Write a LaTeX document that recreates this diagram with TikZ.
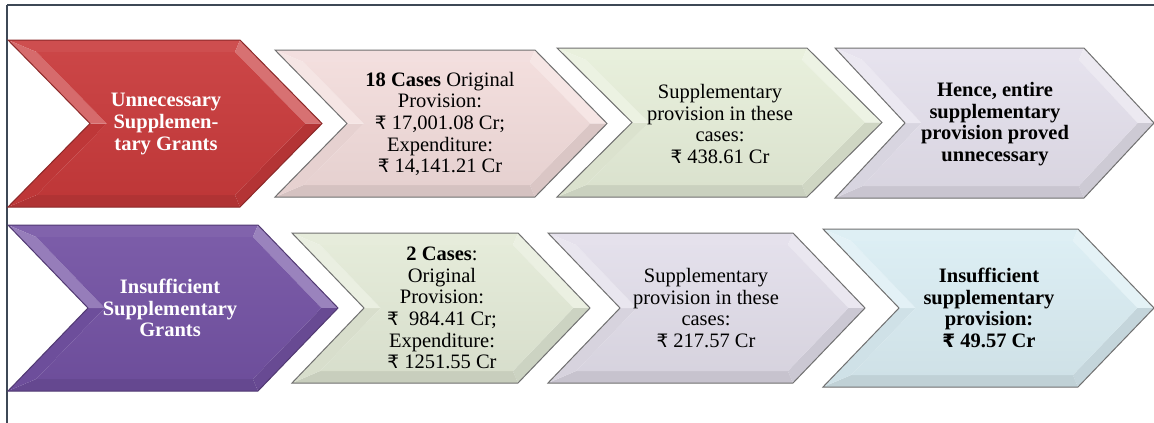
\documentclass[tikz,border=0pt]{standalone}
\usepackage{fontspec}
\setmainfont{Liberation Serif}
\newfontfamily\rupfont[Scale=0.9]{DejaVu Sans}
\newcommand\Rs{{\rupfont ₹}}
\definecolor{redc}{HTML}{C83A3B}
\definecolor{purc}{HTML}{7352A3}
\definecolor{pinkc}{HTML}{F2DCDB}
\definecolor{greenc}{HTML}{E6EED9}
\definecolor{greenb}{HTML}{E3EAD7}
\definecolor{lavc}{HTML}{E4E0EC}
\definecolor{lavb}{HTML}{E2DEEA}
\definecolor{bluec}{HTML}{DAEDF3}
\definecolor{framec}{HTML}{3E4856}
\definecolor{edgec}{HTML}{707070}
\newcommand\chev[7]{%
  \pgfmathsetmacro\chM{(#2+#3)/2}%
  \pgfmathsetmacro\chH{(#3-#2)/2}%
  \pgfmathsetmacro\chI{12}%
  \pgfmathsetmacro\chS{\chI*sqrt(#5*#5+\chH*\chH)/\chH}%
  \pgfmathsetmacro\chX{#5*\chI/\chH}%
  \coordinate (oA) at (#1,#2);
  \coordinate (oB) at (#4,#2);
  \coordinate (oC) at ({#4+#5},\chM);
  \coordinate (oD) at (#4,#3);
  \coordinate (oE) at (#1,#3);
  \coordinate (oF) at ({#1+#5},\chM);
  \coordinate (ia) at ({#1+\chS+\chX},{#2+\chI});
  \coordinate (ib) at ({#4-\chS+\chX},{#2+\chI});
  \coordinate (ic) at ({#4+#5-\chS},\chM);
  \coordinate (id) at ({#4-\chS+\chX},{#3-\chI});
  \coordinate (ie) at ({#1+\chS+\chX},{#3-\chI});
  \coordinate (if) at ({#1+#5+\chS},\chM);
  \fill[#6!90!white] (oA) -- (oB) -- (ib) -- (ia) -- cycle;
  \fill[#6!72!white] (oB) -- (oC) -- (ic) -- (ib) -- cycle;
  \fill[#6!90!black] (oC) -- (oD) -- (id) -- (ic) -- cycle;
  \fill[#6!88!black] (oD) -- (oE) -- (ie) -- (id) -- cycle;
  \fill[#6!95!black] (oE) -- (oF) -- (if) -- (ie) -- cycle;
  \fill[#6!75!white] (oF) -- (oA) -- (ia) -- (if) -- cycle;
  \shade[top color=#6!94!white, bottom color=#6!95!black] (ia) -- (ib) -- (ic) -- (id) -- (ie) -- (if) -- cycle;
  \draw[#7, line width=1pt, line join=miter] (oA) -- (oB) -- (oC) -- (oD) -- (oE) -- (oF) -- cycle;
}
\tikzset{
  txt/.style={align=center, font=\fontsize{20.5}{21.7}\selectfont, inner sep=0pt, text=black},
  wtxt/.style={txt, text=white, font=\fontsize{20.5}{21.7}\selectfont\bfseries},
  btxt/.style={txt, font=\fontsize{20.5}{21.7}\selectfont\bfseries}
}
\begin{document}
\begin{tikzpicture}[x=1pt,y=-1pt]
\fill[white] (0,0) rectangle (1154,423);
\useasboundingbox (0,0) rectangle (1154,423);
\draw[framec, line width=1.4pt] (7,5) -- (1154,5);
\draw[framec, line width=1.8pt] (7,5) -- (7,423);
% row 1
\chev{8}{40}{207}{240}{82}{redc}{redc!70!black}
\chev{275}{50}{197}{535}{72}{pinkc}{edgec}
\chev{557}{48}{197}{807}{75}{greenc}{edgec}
\chev{835}{48}{198}{1084}{70}{lavc}{edgec}
% row 2
\chev{8}{225}{391}{258}{80}{purc}{purc!70!black}
\chev{292}{233}{383}{518}{72}{greenb}{edgec}
\chev{548}{233}{383}{793}{72}{lavb}{edgec}
\chev{823}{229}{387}{1078}{76}{bluec}{edgec}
% texts row 1
\node[wtxt] (t11) at (166,124) {Unnecessary\\Supplemen-\\tary Grants};
\node[txt] (t12) at (440,124) {\textbf{18 Cases} Original\\Provision:\\\Rs\ 17,001.08 Cr;\\Expenditure:\\\Rs\ 14,141.21 Cr};
\node[txt] (t13) at (720,124) {Supplementary\\provision in these\\cases:\\\Rs\ 438.61 Cr};
\node[btxt] (t14) at (995,124) {Hence, entire\\supplementary\\provision proved\\unnecessary};
% texts row 2
\node[wtxt] (t21) at (170,308) {Insufficient\\Supplementary\\Grants};
\node[txt] (t22) at (442,308) {\textbf{2 Cases}:\\Original\\Provision:\\\Rs\ \ 984.41 Cr;\\Expenditure:\\\Rs\ 1251.55 Cr};
\node[txt] (t23) at (706,308) {Supplementary\\provision in these\\cases:\\\Rs\ 217.57 Cr};
\node[btxt] (t24) at (989,308) {Insufficient\\supplementary\\provision:\\{\rupfont\bfseries ₹} 49.57 Cr};
\end{tikzpicture}
\end{document}
